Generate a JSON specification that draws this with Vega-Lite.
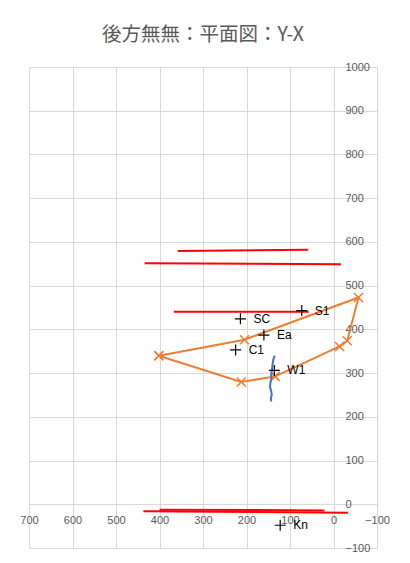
{
  "$schema": "https://vega.github.io/schema/vega-lite/v6.json",
  "width": 348,
  "height": 481,
  "autosize": {"type": "none"},
  "padding": {"left": 29, "top": 67, "right": 33, "bottom": 15},
  "background": "white",
  "title": {"text": "後方無無：平面図：Y-X", "font": "Noto Sans CJK JP", "fontSize": 19.5, "fontWeight": "normal", "color": "#595959", "frame": "group", "anchor": "middle", "offset": 1, "baseline": "alphabetic"},
  "config": {"view": {"stroke": null}},
  "datasets": {
    "outline": [
      {"i": 0, "x": 401.6, "y": 339.8},
      {"i": 1, "x": 204.6, "y": 376.4},
      {"i": 2, "x": -57.5, "y": 473},
      {"i": 3, "x": -31.5, "y": 374},
      {"i": 4, "x": -13.8, "y": 361},
      {"i": 5, "x": 134, "y": 292.5},
      {"i": 6, "x": 212, "y": 279.7},
      {"i": 7, "x": 401.6, "y": 339.8}
    ],
    "red": [
      {"seg": "a", "i": 0, "x": 358, "y": 579},
      {"seg": "a", "i": 1, "x": 58, "y": 582},
      {"seg": "b", "i": 0, "x": 434, "y": 551},
      {"seg": "b", "i": 1, "x": -17, "y": 549},
      {"seg": "c", "i": 0, "x": 367, "y": 440},
      {"seg": "c", "i": 1, "x": 57, "y": 440},
      {"seg": "d", "i": 0, "x": 437, "y": -16},
      {"seg": "d", "i": 1, "x": -33, "y": -19.5},
      {"seg": "e", "i": 0, "x": 400, "y": -12.5},
      {"seg": "e", "i": 1, "x": 21, "y": -14}
    ],
    "blue": [
      {"i": 0, "x": 135, "y": 340},
      {"i": 1, "x": 138, "y": 332},
      {"i": 2, "x": 140, "y": 322},
      {"i": 3, "x": 141, "y": 310},
      {"i": 4, "x": 143, "y": 298},
      {"i": 5, "x": 143, "y": 288},
      {"i": 6, "x": 145, "y": 278},
      {"i": 7, "x": 146, "y": 268},
      {"i": 8, "x": 143, "y": 258},
      {"i": 9, "x": 142, "y": 250},
      {"i": 10, "x": 144, "y": 242},
      {"i": 11, "x": 143, "y": 235}
    ],
    "pts": [
      {"label": "S1", "x": 73, "y": 443},
      {"label": "SC", "x": 214, "y": 424},
      {"label": "Ea", "x": 160, "y": 387},
      {"label": "C1", "x": 225, "y": 353},
      {"label": "W1", "x": 136, "y": 306},
      {"label": "Kn", "x": 122.5, "y": -48}
    ]
  },
  "encoding": {
    "x": {
      "field": "x", "type": "quantitative",
      "scale": {"domain": [-100, 700], "reverse": true, "nice": false, "zero": false},
      "axis": {"title": null, "orient": "bottom", "offset": -43.73, "format": "d", "values": [-100, 0, 100, 200, 300, 400, 500, 600, 700], "domain": false, "ticks": false, "labelPadding": 10, "labelFlush": false, "labelOverlap": false, "gridColor": "#d9d9d9", "labelColor": "#595959", "labelFont": "Liberation Sans", "labelFontSize": 11}
    },
    "y": {
      "field": "y", "type": "quantitative",
      "scale": {"domain": [-100, 1000], "nice": false, "zero": false},
      "axis": {"title": null, "orient": "right", "offset": -43.5, "format": "d", "values": [-100, 0, 100, 200, 300, 400, 500, 600, 700, 800, 900, 1000], "domain": false, "ticks": false, "labelPadding": 11.5, "labelFlush": false, "labelOverlap": false, "gridColor": "#d9d9d9", "labelColor": "#595959", "labelFont": "Liberation Sans", "labelFontSize": 11}
    }
  },
  "layer": [
    {
      "data": {"name": "red"},
      "mark": {"type": "line", "color": "#FF0000", "strokeWidth": 2},
      "encoding": {"detail": {"field": "seg"}, "order": {"field": "i", "type": "quantitative"}}
    },
    {
      "data": {"name": "outline"},
      "mark": {"type": "line", "color": "#ED7D31", "strokeWidth": 2},
      "encoding": {"order": {"field": "i", "type": "quantitative"}}
    },
    {
      "data": {"name": "outline"},
      "mark": {"type": "point", "shape": "M-1,-1L1,1M-1,1L1,-1", "size": 81, "color": "#ED7D31", "filled": false, "strokeWidth": 1.5, "opacity": 1}
    },
    {
      "data": {"name": "blue"},
      "mark": {"type": "line", "color": "#4472C4", "strokeWidth": 2},
      "encoding": {"order": {"field": "i", "type": "quantitative"}}
    },
    {
      "data": {"name": "pts"},
      "mark": {"type": "point", "shape": "M-1,0L1,0M0,-1L0,1", "size": 121, "color": "#000000", "filled": false, "strokeWidth": 1.2, "opacity": 1}
    },
    {
      "data": {"name": "pts"},
      "mark": {"type": "text", "align": "left", "baseline": "middle", "dx": 13, "font": "Liberation Sans", "fontSize": 12, "color": "#000000"},
      "encoding": {"text": {"field": "label"}}
    }
  ]
}
